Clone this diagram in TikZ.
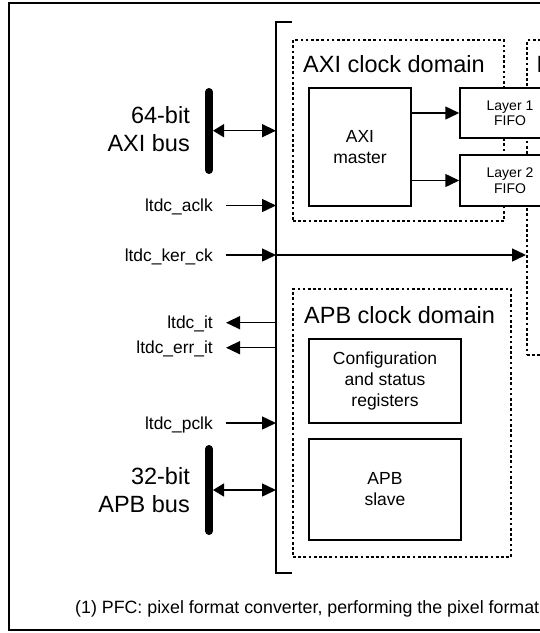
\documentclass[tikz,border=0pt]{standalone}
\usepackage{fontspec}
\setmainfont{Liberation Sans}
\usetikzlibrary{arrows.meta}
\begin{document}
\begin{tikzpicture}[x=1pt,y=-1pt,
  box/.style={draw, line width=1.5pt, fill=white, inner sep=0pt, align=center,
    font=\fontsize{17.5}{21}\selectfont},
  fifo/.style={box, font=\fontsize{14}{15.4}\selectfont, minimum width=100pt},
  dom/.style={draw, line width=2pt, dash pattern=on 2.7pt off 2.5pt, inner sep=0pt},
  domtitle/.style={font=\fontsize{23.5}{27.5}\selectfont, inner sep=0pt, anchor=base west},
  buslabel/.style={font=\fontsize{23.5}{27.3}\selectfont, inner sep=0pt, align=right, anchor=east},
  sig/.style={font=\fontsize{17.4}{20}\selectfont, inner sep=0pt, anchor=base east},
  arr/.style={line width=1.5pt, -{Triangle[length=14pt,width=13pt]}},
  busarr/.style={line width=1.5pt, {Triangle[length=11pt,width=13pt]}-{Triangle[length=14pt,width=13pt]}},
  bus/.style={line width=8pt, line cap=round},
]
\useasboundingbox (0,0) rectangle (540,633);
\clip (0,0) rectangle (540,633);

% outer figure frame
\draw[line width=2pt] (9,3) rectangle (600,630);

% LTDC block edge
\coordinate (brkT) at (276,22);
\coordinate (brkB) at (276,573);
\draw[line width=1.5pt] ([xshift=16pt]brkT) -- (brkT) -- (brkB) -- ([xshift=16pt]brkB);

% clock domains
\node[dom, minimum width=211pt, minimum height=181pt] (axid) at (398.5,130.5) {};
\node[dom, minimum width=73pt, minimum height=315pt] (pixd) at (563.5,197.5) {};
\node[dom, minimum width=218pt, minimum height=268pt] (apbd) at (402,423) {};
\node[domtitle] (axit) at (303,72.4) {AXI clock domain};
\node[domtitle] (pixt) at (536.5,72.4) {Pixel clock domain};
\node[domtitle] (apbt) at (304,323.4) {APB clock domain};

% blocks
\node[box, minimum width=102pt, minimum height=118pt] (axim) at (360,147) {AXI\\master};
\node[fifo, minimum height=50pt] (l1) at (510,113) {Layer 1\\FIFO};
\node[fifo, minimum height=51pt] (l2) at (510,180.5) {Layer 2\\FIFO};
\node[box, minimum width=152pt, minimum height=84pt] (cfg) at (385,381) {Configuration\\and status\\registers};
\node[box, minimum width=152pt, minimum height=101pt] (apbs) at (385,489.5) {APB\\slave};

\draw[arr] (axim.east |- l1.west) -- (l1.west);
\draw[arr] (axim.east |- l2.west) -- (l2.west);

% buses
\coordinate (axibusT) at (209,92);
\coordinate (axibusB) at (209,170);
\coordinate (axibusM) at (213,130.7);
\coordinate (apbbusT) at (209,449);
\coordinate (apbbusB) at (209,531);
\coordinate (apbbusM) at (213,490);
\draw[bus] (axibusT) -- (axibusB);
\draw[bus] (apbbusT) -- (apbbusB);
\node[buslabel] (axibl) at (190,129.2) {64-bit\\AXI bus};
\node[buslabel] (apbbl) at (190,490.2) {32-bit\\APB bus};
\draw[busarr] (axibusM) -- (axibusM -| brkT);
\draw[busarr] (apbbusM) -- (apbbusM -| brkT);

% signals
\coordinate (aclkT) at (226,205.5);
\coordinate (kerT) at (226,255);
\coordinate (itT) at (226,322.7);
\coordinate (erritT) at (226,347.7);
\coordinate (pclkT) at (226,423);
\node[sig] (aclk) at (213,211.7) {ltdc\_aclk};
\node[sig] (ker) at (213,261.2) {ltdc\_ker\_ck};
\node[sig] (it) at (213,328.9) {ltdc\_it};
\node[sig] (errit) at (213,353.9) {ltdc\_err\_it};
\node[sig] (pclk) at (213,429.2) {ltdc\_pclk};
\draw[arr] (aclkT) -- (aclkT -| brkT);
\draw[arr] (kerT) -- (kerT -| brkT);
\draw[arr] (kerT -| brkT) -- (kerT -| pixd.west);
\draw[arr] (itT -| brkT) -- (itT);
\draw[arr] (erritT -| brkT) -- (erritT);
\draw[arr] (pclkT) -- (pclkT -| brkT);

% footnote
\node[font=\fontsize{17.8}{20}\selectfont, inner sep=0pt, anchor=base west] (note) at (75,613.5)
  {(1) PFC: pixel format converter, performing the pixel format};
\end{tikzpicture}
\end{document}
